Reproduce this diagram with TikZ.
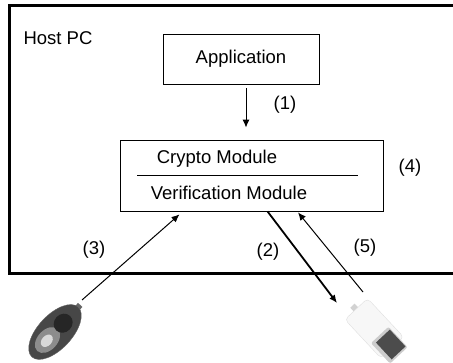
\documentclass[tikz,border=0pt]{standalone}
\usepackage{fontspec}
\setmainfont{Liberation Sans}
\usetikzlibrary{arrows.meta}

\begin{document}
\begin{tikzpicture}[x=1pt,y=-1pt,font=\fontsize{18.5}{20}\selectfont,
  box/.style={draw,line width=0.8pt,inner sep=0pt},
  flow/.style={-{Latex[length=8pt,width=7pt]},line width=1pt}]
\useasboundingbox (0,0) rectangle (453,363);
% host frame, open to the right
\draw [line width=3pt] (9,6) rectangle (490,274);
\node [anchor=west] (host) at (20,38) {Host PC};
\node [box,minimum width=156pt,minimum height=50pt] (app) at (241,59) {Application};
\node [box,minimum width=263pt,minimum height=71pt] (mod) at (251.5,175.5) {};
\node (crypto) at (217,159) {Crypto Module};
\node (verif) at (229,193) {Verification Module};
\draw (137,175) -- (358,175);

% devices
\coordinate (reader) at (55,332);
\coordinate (token) at (377,332);
\begin{scope}[shift={(reader)},rotate=47]
\fill [gray!80!black] (31,-3) rectangle (37,3);
\draw [black!60,fill=black!72] (0,0) ellipse (34 and 17);
\fill [black!45] (-11,0) ellipse (15 and 10);
\fill [white!85!black] (-12,0) ellipse (7 and 5);
\fill [black!85] (12,0) ellipse (10 and 9);
\end{scope}
\begin{scope}[shift={(token)},rotate=-47]
\fill [gray!35] (-36,-3) rectangle (-30,3);
\draw [gray!25,fill=gray!6,rounded corners=4pt] (-31,-16) rectangle (22,15);
\fill [gray!40,rounded corners=2pt] (4,-12) rectangle (32,12);
\fill [black!70] (7,-11) rectangle (30,8);
\end{scope}

% flows
\draw [flow] ([xshift=5pt,yshift=-4pt]app.south) -- ([xshift=-5.5pt,yshift=12pt]mod.north);
\node (l1) at (285,105) {(1)};
\node (l4) at (410,168) {(4)};
\coordinate (r3) at ([shift={(27,-32)}]reader);
\draw [flow] (r3) -- ([xshift=-72pt,yshift=-3pt]mod.south);
\node (l3) at (94,250) {(3)};
\coordinate (t2) at ([shift={(-40,-29)}]token);
\draw [flow,line width=1.8pt] ([xshift=16pt]mod.south) -- (t2);
\node (l2) at (268,252) {(2)};
\coordinate (t5) at ([shift={(-14,-40)}]token);
\draw [flow] (t5) -- ([xshift=46.5pt,yshift=-1pt]mod.south);
\node (l5) at (365,248) {(5)};
\end{tikzpicture}
\end{document}
